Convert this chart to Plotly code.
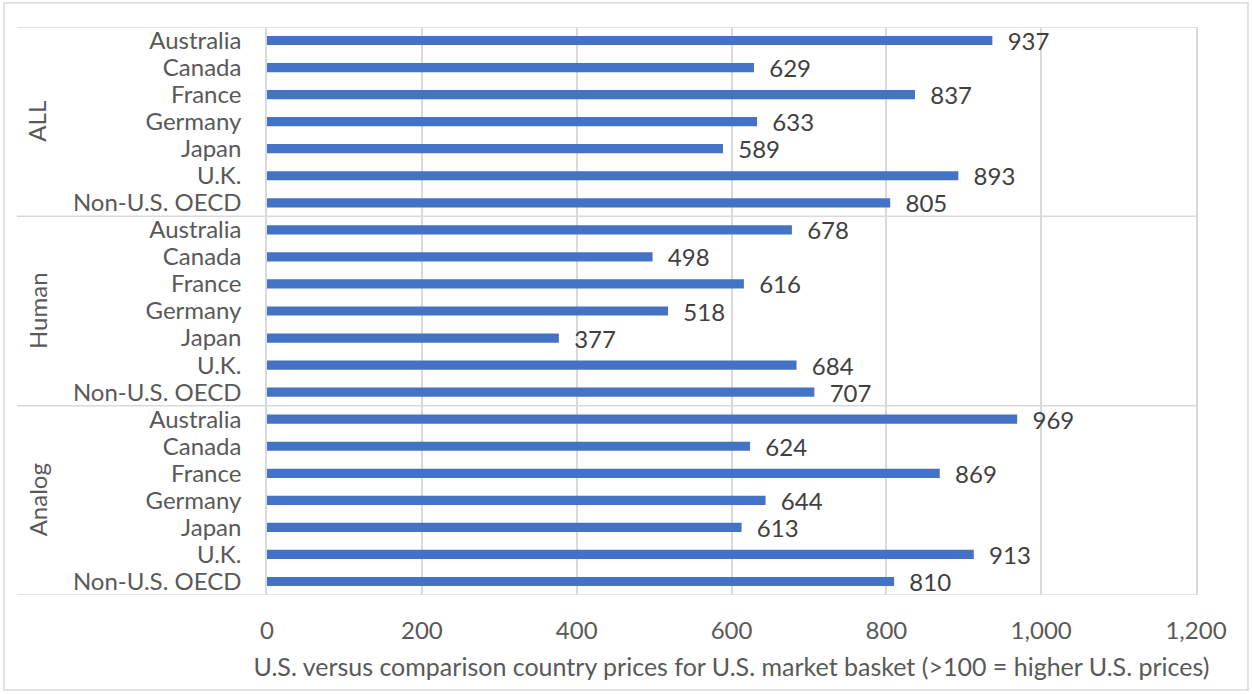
import plotly.graph_objects as go

groups = ["ALL", "Human", "Analog"]
countries = ["Australia", "Canada", "France", "Germany", "Japan", "U.K.", "Non-U.S. OECD"]
all_vals = [937, 629, 837, 633, 589, 893, 805]
human_vals = [678, 498, 616, 518, 377, 684, 707]
analog_vals = [969, 624, 869, 644, 613, 913, 810]
x_ticks = [0, 200, 400, 600, 800, 1000, 1200]
x_title = "U.S. versus comparison country prices for U.S. market basket (>100 = higher U.S. prices)"

values = all_vals + human_vals + analog_vals
labels = countries * len(groups)
pos = list(range(len(values)))

FONT = "Lato"
FS = 24
GRID = "#D9D9D9"
L, R, T, B = 267, 56, 27, 99
W, H = 1252, 694
pw = W - L - R
ph = H - T - B

def px2x(px):
    return (px - L) / pw

def py2y(py):
    return (H - B - py) / ph

fig = go.Figure()
fig.add_trace(go.Bar(
    x=values, y=pos, orientation="h",
    marker=dict(color="#4472C4", line=dict(width=0)),
    width=0.34,
    text=values,
    texttemplate="\u00a0\u00a0%{x}",
    textposition="outside",
    constraintext="none",
    textfont=dict(family=FONT, size=FS, color="#404040"),
    cliponaxis=False,
    hoverinfo="skip",
))

shapes = []
n = len(countries)
for k in range(len(groups) + 1):
    yb = k * n - 0.5
    shapes.append(dict(type="line", xref="paper", yref="y",
                       x0=px2x(17), x1=1, y0=yb, y1=yb,
                       line=dict(color=GRID, width=1.5), layer="below"))
# outer chart border
shapes.append(dict(type="rect", xref="paper", yref="paper",
                   x0=px2x(4), x1=px2x(1248), y0=py2y(690), y1=py2y(3),
                   line=dict(color=GRID, width=1.5), layer="below"))

annotations = []
for i, g in enumerate(groups):
    annotations.append(dict(text=g, xref="paper", yref="y",
                            x=px2x(37), y=i * n + (n - 1) / 2,
                            textangle=-90, showarrow=False,
                            font=dict(family=FONT, size=FS, color="#595959"),
                            xanchor="center", yanchor="middle"))

fig.update_layout(
    width=W, height=H,
    margin=dict(l=L, r=R, t=T, b=B, autoexpand=False),
    paper_bgcolor="white", plot_bgcolor="white",
    showlegend=False,
    shapes=shapes,
    annotations=annotations,
    font=dict(family=FONT, color="#595959"),
    xaxis=dict(range=[0, 1200], tickvals=x_ticks,
               ticktext=[f"{v:,}" for v in x_ticks],
               showgrid=True, gridcolor=GRID, gridwidth=1.5,
               zeroline=False, showline=False,
               ticks="", ticklabelstandoff=19,
               tickfont=dict(family=FONT, size=FS, color="#595959"),
               title=dict(text=x_title, standoff=15,
                          font=dict(family=FONT, size=25, color="#595959"))),
    yaxis=dict(range=[len(values) - 0.5, -0.5],
               tickvals=pos, ticktext=labels,
               showgrid=False, zeroline=False,
               showline=True, mirror=True, linecolor=GRID, linewidth=1.5,
               ticks="", ticklabelstandoff=19,
               tickfont=dict(family=FONT, size=FS, color="#595959")),
)

fig.write_html("out.html", config={"displayModeBar": False},
               post_script="document.body.style.margin='0';document.body.style.overflow='hidden';")
